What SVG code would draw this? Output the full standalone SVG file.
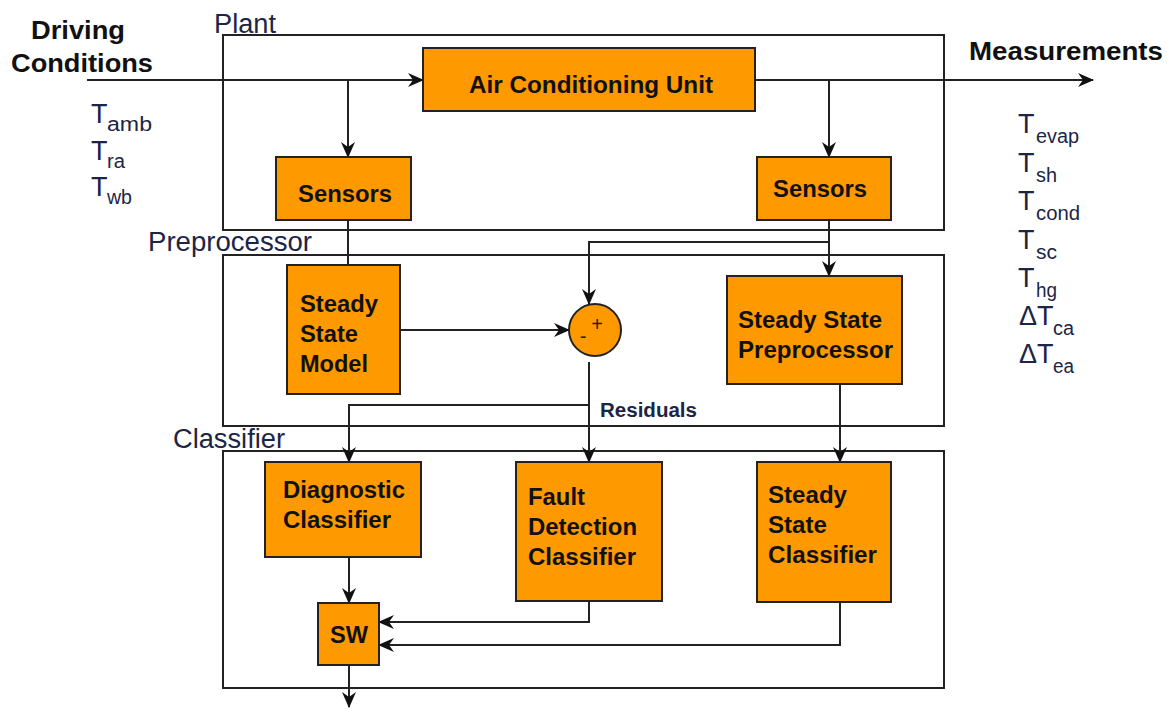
<svg xmlns="http://www.w3.org/2000/svg" width="1167" height="709" viewBox="0 0 1167 709">
<defs>
<marker id="arr" markerUnits="userSpaceOnUse" markerWidth="16" markerHeight="14" viewBox="0 0 16 14" refX="15" refY="7" orient="auto">
<path d="M0,0 L16,7 L0,14 L5,7 z" fill="#111"/>
</marker>
<style>
.frame{fill:none;stroke:#222;stroke-width:2}
.box{fill:#ff9900;stroke:#222;stroke-width:2}
.nt{font-family:"Liberation Sans",Arial,sans-serif;font-weight:bold;font-size:23px;fill:#111}
.lbl{font-family:"Liberation Sans",Arial,sans-serif;font-size:27px;fill:#1c2546}
.big{font-family:"Liberation Sans",Arial,sans-serif;font-weight:bold;font-size:26px;fill:#111}
.T{font-family:"Liberation Sans",Arial,sans-serif;font-size:27px;fill:#1c2546}
.sub{font-family:"Liberation Sans",Arial,sans-serif;font-size:20px;fill:#1c2546}
.res{font-family:"Liberation Sans",Arial,sans-serif;font-weight:bold;font-size:20px;fill:#1c2546}
.sign{font-family:"Liberation Sans",Arial,sans-serif;font-size:20px;fill:#222}
</style>
</defs>
<rect width="1167" height="709" fill="#fff"/>

<g id="frames">
<rect class="frame" x="223" y="35" width="721" height="195"/>
<rect class="frame" x="223" y="255" width="721" height="171"/>
<rect class="frame" x="223" y="451" width="721" height="237"/>
<text class="lbl" x="214" y="33" textLength="62" lengthAdjust="spacingAndGlyphs">Plant</text>
<text class="lbl" x="148" y="251" textLength="164" lengthAdjust="spacingAndGlyphs">Preprocessor</text>
<text class="lbl" x="173" y="448" textLength="112" lengthAdjust="spacingAndGlyphs">Classifier</text>
</g>

<g id="inputs">
<text class="big" x="31" y="39" textLength="94" lengthAdjust="spacingAndGlyphs">Driving</text>
<text class="big" x="11" y="72" textLength="142" lengthAdjust="spacingAndGlyphs">Conditions</text>
<text class="T" x="91" y="123">T</text><text class="sub" x="107" y="131" textLength="45" lengthAdjust="spacingAndGlyphs">amb</text>
<text class="T" x="91" y="160">T</text><text class="sub" x="107" y="168" textLength="18" lengthAdjust="spacingAndGlyphs">ra</text>
<text class="T" x="91" y="196">T</text><text class="sub" x="107" y="204" textLength="25" lengthAdjust="spacingAndGlyphs">wb</text>
</g>

<g id="outputs">
<text class="big" x="969" y="60" textLength="194" lengthAdjust="spacingAndGlyphs">Measurements</text>
<text class="T" x="1018" y="133">T</text><text class="sub" x="1036" y="143" textLength="43" lengthAdjust="spacingAndGlyphs">evap</text>
<text class="T" x="1018" y="172">T</text><text class="sub" x="1036" y="182" textLength="21" lengthAdjust="spacingAndGlyphs">sh</text>
<text class="T" x="1018" y="210">T</text><text class="sub" x="1036" y="220" textLength="44" lengthAdjust="spacingAndGlyphs">cond</text>
<text class="T" x="1018" y="249">T</text><text class="sub" x="1036" y="259" textLength="21" lengthAdjust="spacingAndGlyphs">sc</text>
<text class="T" x="1018" y="287">T</text><text class="sub" x="1036" y="297" textLength="21" lengthAdjust="spacingAndGlyphs">hg</text>
<text class="T" x="1019" y="325">ΔT</text><text class="sub" x="1053" y="335" textLength="21" lengthAdjust="spacingAndGlyphs">ca</text>
<text class="T" x="1019" y="363">ΔT</text><text class="sub" x="1053" y="373" textLength="21" lengthAdjust="spacingAndGlyphs">ea</text>
</g>

<g id="connectors" fill="none" stroke="#222" stroke-width="2">
<path d="M87,80 H423" marker-end="url(#arr)"/>
<path d="M348,80 V157" marker-end="url(#arr)"/>
<path d="M755,80 H1093" marker-end="url(#arr)"/>
<path d="M829,80 V157" marker-end="url(#arr)"/>
<path d="M348,220 V265"/>
<path d="M829,220 V276" marker-end="url(#arr)"/>
<path d="M829,242 H589 V304" marker-end="url(#arr)"/>
<path d="M400,330 H569" marker-end="url(#arr)"/>
<path d="M589,362 V462" marker-end="url(#arr)"/>
<path d="M589,405 H349 V462" marker-end="url(#arr)"/>
<path d="M840,384 V462" marker-end="url(#arr)"/>
<path d="M349,557 V603" marker-end="url(#arr)"/>
<path d="M589,601 V622 H379" marker-end="url(#arr)"/>
<path d="M840,602 V645 H379" marker-end="url(#arr)"/>
<path d="M349,665 V707" marker-end="url(#arr)"/>
</g>
<text class="res" x="600" y="417" textLength="97" lengthAdjust="spacingAndGlyphs">Residuals</text>

<g id="acu">
<rect class="box" x="423" y="48" width="332" height="63"/>
<text class="nt" x="469" y="93" textLength="244" lengthAdjust="spacingAndGlyphs">Air Conditioning Unit</text>
</g>
<g id="sensors-left">
<rect class="box" x="276" y="157" width="135" height="63"/>
<text class="nt" x="298" y="202" textLength="94" lengthAdjust="spacingAndGlyphs">Sensors</text>
</g>
<g id="sensors-right">
<rect class="box" x="757" y="157" width="134" height="63"/>
<text class="nt" x="773" y="197" textLength="94" lengthAdjust="spacingAndGlyphs">Sensors</text>
</g>
<g id="ss-model">
<rect class="box" x="287" y="265" width="113" height="129"/>
<text class="nt" x="300" y="312" textLength="78" lengthAdjust="spacingAndGlyphs">Steady</text>
<text class="nt" x="300" y="342" textLength="58" lengthAdjust="spacingAndGlyphs">State</text>
<text class="nt" x="300" y="372" textLength="68" lengthAdjust="spacingAndGlyphs">Model</text>
</g>
<g id="summer">
<circle cx="595" cy="330" r="26" fill="#ff9900" stroke="#222" stroke-width="2"/>
<text class="sign" x="597" y="331" text-anchor="middle">+</text>
<text class="sign" x="583" y="343" text-anchor="middle">-</text>
</g>
<g id="ss-preprocessor">
<rect class="box" x="727" y="276" width="175" height="108"/>
<text class="nt" x="738" y="328" textLength="144" lengthAdjust="spacingAndGlyphs">Steady State</text>
<text class="nt" x="738" y="358" textLength="155" lengthAdjust="spacingAndGlyphs">Preprocessor</text>
</g>
<g id="diagnostic">
<rect class="box" x="265" y="462" width="156" height="95"/>
<text class="nt" x="283" y="498" textLength="122" lengthAdjust="spacingAndGlyphs">Diagnostic</text>
<text class="nt" x="283" y="528" textLength="108" lengthAdjust="spacingAndGlyphs">Classifier</text>
</g>
<g id="fault-detection">
<rect class="box" x="516" y="462" width="146" height="139"/>
<text class="nt" x="528" y="505" textLength="57" lengthAdjust="spacingAndGlyphs">Fault</text>
<text class="nt" x="528" y="535" textLength="109" lengthAdjust="spacingAndGlyphs">Detection</text>
<text class="nt" x="528" y="565" textLength="108" lengthAdjust="spacingAndGlyphs">Classifier</text>
</g>
<g id="ss-classifier">
<rect class="box" x="757" y="462" width="134" height="140"/>
<text class="nt" x="768" y="503" textLength="79" lengthAdjust="spacingAndGlyphs">Steady</text>
<text class="nt" x="768" y="533" textLength="59" lengthAdjust="spacingAndGlyphs">State</text>
<text class="nt" x="768" y="563" textLength="109" lengthAdjust="spacingAndGlyphs">Classifier</text>
</g>
<g id="sw">
<rect class="box" x="318" y="603" width="61" height="62"/>
<text class="nt" x="330" y="643" textLength="38" lengthAdjust="spacingAndGlyphs">SW</text>
</g>
</svg>
